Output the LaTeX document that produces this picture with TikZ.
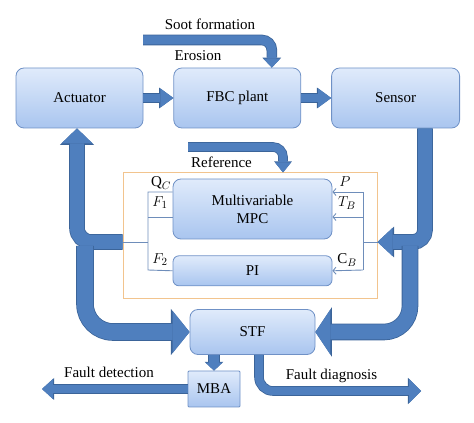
\documentclass[tikz,border=0pt]{standalone}
\usepackage{fontspec}
\setmainfont{Liberation Serif}
\usepackage{xcolor}
\usetikzlibrary{arrows.meta,positioning}
\definecolor{boxtop}{HTML}{E0EBFB}
\definecolor{boxbottom}{HTML}{A9C5EF}
\definecolor{boxedge}{HTML}{6F91C6}
\definecolor{arrowfill}{HTML}{4F7FBE}
\definecolor{arrowedge}{HTML}{3B6499}
\definecolor{thinblue}{HTML}{6E8DBA}
\definecolor{ctrledge}{HTML}{F2C48E}
\tikzset{
	ctrlblock/.style = {
		rectangle,
		align = center,
		inner sep = 0pt,
		rounded corners = 8pt,
		line width = 0.8pt,
		draw = boxedge,
		top color = boxtop,
		bottom color = boxbottom,
	},
	fatarrow/.style n args = {3}{
		draw = arrowfill,
		line width = #1,
		-{Triangle[width=#2,length=#3,line width=0pt]},
		preaction = {draw = arrowedge, line width = #1+1.6pt,
			-{Triangle[width=#2,length=#3,line width=0pt,scale=1.1]}},
	},
	thinline/.style = {draw = thinblue, line width = 0.9pt},
	thinarrow/.style = {thinline, -{Straight Barb[length=3pt,width=7pt]}},
	plainlabel/.style = {inner sep = 0pt},
}

\begin{document}
\begin{tikzpicture}[x = 1pt, y = 1pt, font = \fontsize{15}{18}\selectfont]
	\useasboundingbox (0,0) rectangle (474,423);
	% controller frame
	\node[draw = ctrledge, line width = 1pt, minimum width = 254pt, minimum height = 126pt](ctrl) at (250,187){};
	
	% top row
	\node[ctrlblock, minimum width = 127pt, minimum height = 60pt](actuator) at (79.5,325){Actuator};
	\node[ctrlblock, minimum width = 127pt, minimum height = 60pt, right = 30pt of actuator](fbc){FBC plant};
	\node[ctrlblock, minimum width = 128pt, minimum height = 60pt, right = 30pt of fbc](sensor){Sensor};
	
	% controllers
	\node[ctrlblock, minimum width = 159pt, minimum height = 60pt](mpc) at (252.5,214){Multivariable\\MPC};
	\node[ctrlblock, rounded corners = 6pt, minimum width = 159pt, minimum height = 30pt, below = 16pt of mpc](pi){PI};
	
	% bottom
	\node[ctrlblock, minimum width = 125pt, minimum height = 45pt](stf) at (252.5,91){STF};
	\node[ctrlblock, rounded corners = 1pt, minimum width = 52pt, minimum height = 36pt](mba) at (214,34){MBA};
	
	% texts
	\node[plainlabel](soottext) at (210,399){Soot formation};
	\node[plainlabel](erosiontext) at (198,367){Erosion};
	\node[plainlabel](reftext) at (221.5,261){Reference};
	\node[plainlabel](detecttext) at (109,51){Fault detection};
	\node[plainlabel](diagtext) at (331.5,47){Fault diagnosis};
	\node[plainlabel](qc) at (161,240){$\mathrm{Q}_C$};
	\node[plainlabel](fone) at (160,220){$F_1$};
	\node[plainlabel](ftwo) at (160,163){$F_2$};
	\node[plainlabel](ptext) at (345,241){$P$};
	\node[plainlabel](tb) at (347,220){$T_B$};
	\node[plainlabel](cb) at (347,163){$\mathrm{C}_B$};
	
	% thin signal lines
	\coordinate (lbustop) at (148,231);
	\coordinate (lbusmid) at (148,206);
	\coordinate (lbusbot) at (148,153);
	\coordinate (ljoin) at (148,181);
	\coordinate (rbustop) at (363,231);
	\coordinate (rbusmid) at (363,206);
	\coordinate (rbusbot) at (363,153);
	\coordinate (rjoin) at (363,181);
	\draw[thinline] (lbustop -| mpc.west) -- (lbustop) -- (lbusbot) -- (pi.west);
	\draw[thinline] (lbusmid) -- (lbusmid -| mpc.west);
	\draw[thinline] (ljoin -| ctrl.west) -- (ljoin);
	\draw[thinline] (rbustop) -- (rbusbot);
	\draw[thinarrow] (rbustop) -- (rbustop -| mpc.east);
	\draw[thinarrow] (rbusmid) -- (rbusmid -| mpc.east);
	\draw[thinarrow] (rbusbot) -- (pi.east);
	\draw[thinline] (rjoin -| ctrl.east) -- (rjoin);
	
	% big arrows
	\coordinate (soot) at (143,383);
	\coordinate (sootend) at ([xshift=34.5pt]fbc.north);
	\draw[fatarrow = {9pt}{17pt}{9pt}, rounded corners = 10pt] (soot) -- (soot -| sootend) -- (sootend);
	\coordinate (refin) at (188,276);
	\coordinate (refend) at ([xshift=33pt]ctrl.north);
	\draw[fatarrow = {8pt}{16pt}{10pt}, rounded corners = 10pt] (refin) -- (refin -| refend) -- (refend);
	\draw[fatarrow = {8pt}{19pt}{13pt}] (actuator) -- (fbc);
	\draw[fatarrow = {8pt}{19pt}{13pt}] (fbc) -- (sensor);
	
	\coordinate (lsplit) at (77,181);
	\draw[fatarrow = {14pt}{31pt}{15pt}, rounded corners = 14pt] (lsplit -| ctrl.west) -- (lsplit) -- (lsplit |- actuator.south);
	\coordinate (lbranch) at (85,177);
	\draw[fatarrow = {16pt}{42pt}{17pt}, rounded corners = 28pt] (lbranch) -- (lbranch |- stf.west) -- (stf.west);
	
	\coordinate (rsplit) at (425,181);
	\draw[fatarrow = {14pt}{28pt}{15pt}, rounded corners = 12pt] (rsplit |- sensor.south) -- (rsplit) -- (rsplit -| ctrl.east);
	\coordinate (rbranch) at (410,177);
	\draw[fatarrow = {15pt}{45pt}{15pt}, rounded corners = 26pt] (rbranch) -- (rbranch |- stf.east) -- (stf.east);
	
	\draw[fatarrow = {10pt}{17pt}{8pt}] (stf.south -| mba.north) -- (mba.north);
	\coordinate (detect) at (42,34);
	\draw[fatarrow = {8pt}{20pt}{11pt}] (mba.west) -- (detect);
	\coordinate (diagstart) at ([xshift=6.5pt]stf.south);
	\coordinate (diagnose) at (421,32);
	\draw[fatarrow = {8pt}{24pt}{12pt}, rounded corners = 14pt] (diagstart) -- (diagstart |- diagnose) -- (diagnose);
\end{tikzpicture}
\end{document}
